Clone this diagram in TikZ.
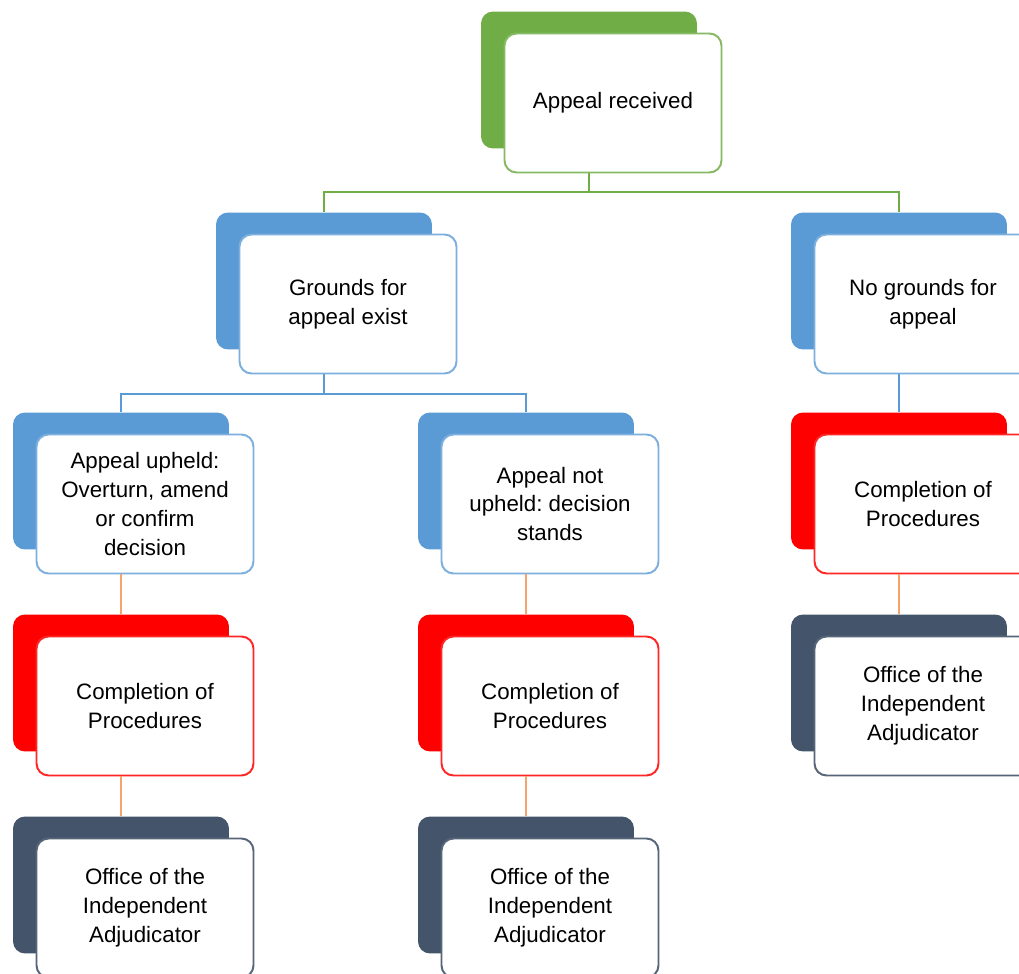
\documentclass[tikz,border=0pt]{standalone}
\usepackage{fontspec}
\setmainfont{Liberation Sans}
\usetikzlibrary{positioning}

\definecolor{cgreen}{HTML}{70AD47}
\definecolor{cblue}{HTML}{5B9BD5}
\definecolor{cred}{HTML}{FF0000}
\definecolor{cslate}{HTML}{44546A}
\definecolor{corange}{HTML}{F4A46A}

\tikzset{
  back/.style={rounded corners=0.24cm, fill=#1, draw=none,
               minimum width=4.32cm, minimum height=2.74cm},
  card/.style={rounded corners=0.24cm, fill=white, draw=#1, line width=1.1pt,
               minimum width=4.34cm, minimum height=2.78cm, align=center,
               font=\fontsize{12.7}{16.4}\selectfont\frenchspacing,
               xshift=0.48cm, yshift=-0.46cm},
  link/.style={draw=#1, line width=1.1pt}
}

\begin{document}
\begin{tikzpicture}[x=0.02cm, y=-0.02cm]

  \useasboundingbox (0,0) rectangle (1019,974);

  % top
  \node[back=cgreen] (recb) at (589,80) {};
  \node[card=cgreen!85] (rec) at (recb) {Appeal received};

  % second row
  \node[back=cblue] (grb) at (324,281) {};
  \node[card=cblue!80] (gr) at (grb) {Grounds for\\appeal exist};
  \node[back=cblue] (ngb) at (899,281) {};
  \node[card=cblue!80] (ng) at (ngb) {No grounds for\\appeal};

  % third row
  \node[back=cblue] (upb) at (121,481) {};
  \node[card=cblue!80] (up) at (upb) {Appeal upheld:\\Overturn, amend\\or confirm\\decision};
  \node[back=cblue] (nupb) at (526,481) {};
  \node[card=cblue!80] (nup) at (nupb) {Appeal not\\upheld: decision\\stands};
  \node[back=cred] (cp3b) at (899,481) {};
  \node[card=cred!85] (cp3) at (cp3b) {Completion of\\Procedures};

  % fourth row
  \node[back=cred] (cp1b) at (121,683) {};
  \node[card=cred!85] (cp1) at (cp1b) {Completion of\\Procedures};
  \node[back=cred] (cp2b) at (526,683) {};
  \node[card=cred!85] (cp2) at (cp2b) {Completion of\\Procedures};
  \node[back=cslate] (oia3b) at (899,683) {};
  \node[card=cslate!90] (oia3) at (oia3b) {Office of the\\Independent\\Adjudicator};

  % fifth row
  \node[back=cslate] (oia1b) at (121,885) {};
  \node[card=cslate!90] (oia1) at (oia1b) {Office of the\\Independent\\Adjudicator};
  \node[back=cslate] (oia2b) at (526,885) {};
  \node[card=cslate!90] (oia2) at (oia2b) {Office of the\\Independent\\Adjudicator};

  % connectors
  \draw[link=cgreen] (recb |- rec.south) -- ++(0,19) -| (grb.north);
  \draw[link=cgreen] (recb |- rec.south) -- ++(0,19) -| (ngb.north);
  \draw[link=cblue] (grb |- gr.south) -- ++(0,20) -| (upb.north);
  \draw[link=cblue] (grb |- gr.south) -- ++(0,20) -| (nupb.north);
  \draw[link=cblue] (ngb |- ng.south) -- (cp3b.north);
  \draw[link=corange] (upb |- up.south) -- (cp1b.north);
  \draw[link=corange] (nupb |- nup.south) -- (cp2b.north);
  \draw[link=corange] (cp3b |- cp3.south) -- (oia3b.north);
  \draw[link=corange] (cp1b |- cp1.south) -- (oia1b.north);
  \draw[link=corange] (cp2b |- cp2.south) -- (oia2b.north);

\end{tikzpicture}
\end{document}
